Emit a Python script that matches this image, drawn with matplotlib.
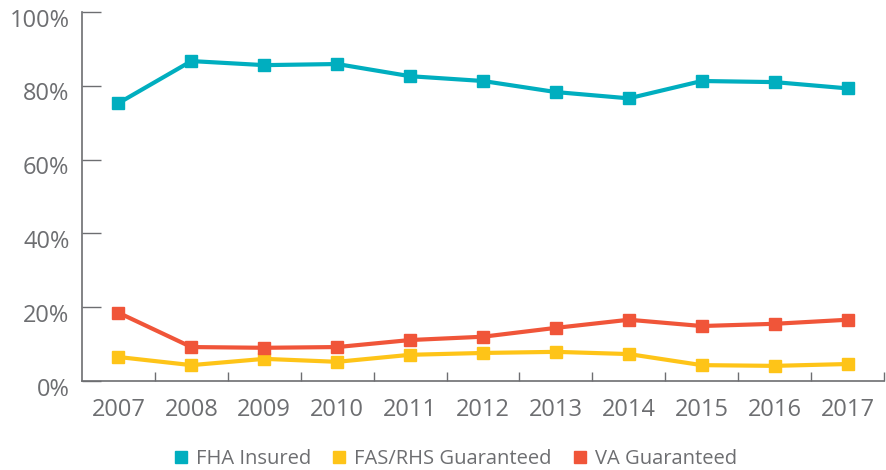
import matplotlib
matplotlib.use('Agg')
import matplotlib.pyplot as plt
import matplotlib.transforms as mtransforms
from matplotlib.lines import Line2D
from matplotlib.ticker import FixedLocator

plt.rcParams['font.family'] = ['Open Sans', 'DejaVu Sans']

# 数据（从图上读取，单位 %）
years = ['2007', '2008', '2009', '2010', '2011', '2012', '2013', '2014', '2015', '2016', '2017']
fha_insured = [75.3, 86.7, 85.6, 85.9, 82.6, 81.3, 78.3, 76.6, 81.3, 81.0, 79.3]
fas_rhs = [6.5, 4.3, 6.0, 5.2, 7.1, 7.6, 7.9, 7.3, 4.3, 4.1, 4.6]
va_guaranteed = [18.5, 9.2, 9.0, 9.2, 11.1, 12.0, 14.4, 16.6, 14.9, 15.5, 16.6]

series = [
    ('FHA Insured', fha_insured, '#00AEBF'),
    ('FAS/RHS Guaranteed', fas_rhs, '#FEC418'),
    ('VA Guaranteed', va_guaranteed, '#F05539'),
]
grey = '#6D6E71'

fig = plt.figure(figsize=(8.87, 4.70), dpi=100)
ax = fig.add_axes([82 / 887, 1 - 381 / 470, 802 / 887, 369 / 470])

x = list(range(len(years)))
for name, vals, c in series:
    ax.plot(x, vals, color=c, linewidth=3.0, marker='s', markersize=9,
            solid_joinstyle='round', label=name, zorder=3)

ax.set_xlim(-0.5, len(years) - 0.5)
ax.set_ylim(0, 100)

for s in ['top', 'right']:
    ax.spines[s].set_visible(False)
for s in ['left', 'bottom']:
    ax.spines[s].set_color(grey)
    ax.spines[s].set_linewidth(1.2)

ax.set_yticks([0, 20, 40, 60, 80, 100])
ax.set_yticklabels([f'{v}%' for v in [0, 20, 40, 60, 80, 100]])
ax.tick_params(axis='y', direction='in', length=14, width=1.0, color=grey,
               labelcolor=grey, labelsize=17, pad=9)
offset = mtransforms.ScaledTranslation(0, -4 / 72, fig.dpi_scale_trans)
for lbl in ax.get_yticklabels():
    lbl.set_transform(lbl.get_transform() + offset)

ax.set_xticks(x)
ax.set_xticklabels(years)
ax.tick_params(axis='x', which='major', length=0, labelcolor=grey,
               labelsize=17, pad=12)
ax.xaxis.set_minor_locator(FixedLocator([i + 0.5 for i in x]))
ax.tick_params(axis='x', which='minor', direction='in', length=6.5,
               width=1.0, color=grey)

handles = [Line2D([], [], linestyle='none', marker='s', markersize=8,
                  color=c, label=name) for name, _, c in series]
leg = fig.legend(handles=handles, loc='center', ncol=3,
                 bbox_to_anchor=(455 / 887, 1 - 459 / 470), frameon=False,
                 handlelength=0.8, handletextpad=0.35,
                 columnspacing=1.0, labelcolor=grey,
                 prop={'size': 14.5})

fig.savefig('out.png', dpi=100)
